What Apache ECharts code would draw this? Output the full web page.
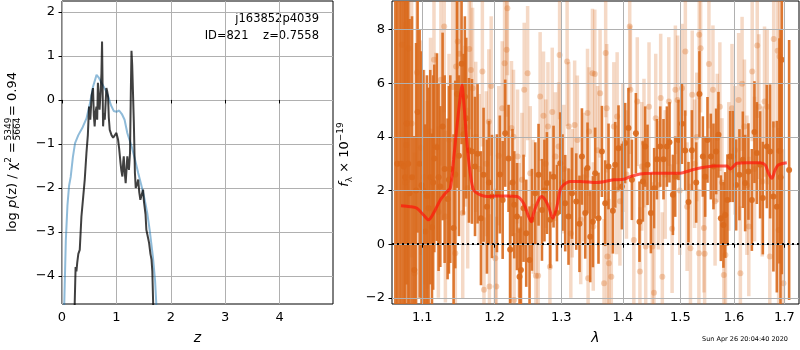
<!DOCTYPE html>
<html>
<head>
<meta charset="utf-8">
<script src="https://cdn.jsdelivr.net/npm/echarts@6/dist/echarts.min.js"></script>
<style>
  html, body { margin: 0; padding: 0; background: #fff; }
  #chart { width: 800px; height: 350px; }
</style>
</head>
<body>
<div id="chart"></div>
<script>
// tick values
const zTicks = [0, 1, 2, 3, 4];
const pzTicks = [-4, -3, -2, -1, 0, 1, 2];
const lamTicks = [1.1, 1.2, 1.3, 1.4, 1.5, 1.6, 1.7];
const fluxTicks = [-2, 0, 2, 4, 6, 8];

// p(z): smooth prior-like curve (blue) and chi2 curve (black), [z, log p]
const pzBlue = [[0.035,-5],[0.05,-4.2],[0.07,-3.2],[0.1,-2.4],[0.13,-1.95],[0.16,-1.75],[0.2,-1.3],[0.24,-0.98],
  [0.3,-0.8],[0.38,-0.62],[0.45,-0.42],[0.51,-0.1],[0.57,0.3],[0.635,0.57],[0.68,0.5],[0.73,0.38],[0.79,0.25],
  [0.85,0.08],[0.9,-0.12],[0.95,-0.25],[1.0,-0.27],[1.05,-0.24],[1.1,-0.32],[1.15,-0.45],[1.2,-0.75],[1.28,-1.06],
  [1.34,-1.35],[1.4,-1.66],[1.46,-1.95],[1.52,-2.27],[1.57,-2.6],[1.61,-2.95],[1.67,-3.56],[1.71,-4.1],[1.74,-4.8],[1.76,-5.5]];
const pzBlack = [[0.22,-5.5],[0.234,-4.6],[0.25,-3.8],[0.265,-3.9],[0.28,-3.7],[0.3,-3.5],[0.326,-3.41],[0.357,-2.65],
  [0.39,-2.2],[0.418,-1.81],[0.449,-1.21],[0.475,-0.8],[0.497,-0.15],[0.52,-0.45],[0.545,0.1],[0.57,0.27],[0.585,-0.35],
  [0.6,-0.6],[0.615,-0.3],[0.633,-0.15],[0.647,-0.45],[0.66,0.39],[0.675,0.05],[0.69,-0.22],[0.71,0.2],[0.725,0.61],
  [0.736,1.33],[0.745,0.4],[0.755,-0.6],[0.77,-0.3],[0.786,-0.45],[0.8,-0.1],[0.816,0.27],[0.83,0.2],[0.846,0.08],
  [0.86,-0.4],[0.877,-0.68],[0.91,-0.8],[0.94,-0.86],[0.97,-0.85],[1.0,-0.75],[1.03,-0.9],[1.05,-1.1],[1.075,-1.43],
  [1.09,-1.6],[1.11,-1.74],[1.125,-1.4],[1.135,-1.28],[1.15,-1.6],[1.17,-1.89],[1.185,-1.6],[1.2,-1.28],[1.215,-1.5],
  [1.23,-1.59],[1.25,-1.2],[1.265,0.2],[1.277,1.12],[1.29,0.8],[1.306,0.84],[1.32,-0.5],[1.34,-1.66],[1.355,-2.0],
  [1.37,-1.97],[1.385,-1.9],[1.4,-1.81],[1.42,-2.1],[1.44,-2.27],[1.465,-2.15],[1.49,-2.04],[1.505,-2.3],[1.52,-2.34],
  [1.535,-2.6],[1.55,-2.95],[1.575,-3.1],[1.6,-3.25],[1.625,-3.5],[1.645,-3.63],[1.66,-3.9],[1.675,-4.62],[1.69,-5.5]];

// spectrum: [lambda, flux, err]
const specDark = [[1.065,-2.6,12],[1.0675,3,9],[1.0705,-2.6,12],[1.073,3,9],[1.0756,2.9,6.5],[1.0775,2.5,7],
  [1.0795,4.5,6],[1.0815,3,7],[1.0833,1.9,6.5],[1.0865,2.5,6],[1.0895,-0.96,5],[1.0918,2,5.5],[1.0938,4.93,4.5],
  [1.0965,3,5],[1.099,2.2,5],[1.1015,2,4.5],[1.104,0.47,4],[1.1062,1.8,4.5],[1.1084,1.34,4.5],[1.1106,2.5,4],
  [1.1129,0.63,3.5],[1.1145,2.3,4],[1.116,3.2,3.5],[1.1196,3.62,3.5],[1.1218,2.5,3.5],[1.1241,2.15,3],[1.1272,4.39,3.5],
  [1.13,2.8,3.5],[1.134,1.69,3],[1.1358,2.4,3.5],[1.1377,2.8,3.5],[1.1422,0.6,3.5],
  [1.1445,2.6,3.5],[1.1468,5.6,3.5],[1.1496,3.3,3],[1.1532,6.73,3],[1.156,4.1,3],[1.1578,5.5,3],
  [1.1597,4.7,3],[1.1635,3.5,2.7],[1.1677,3.46,2.7],[1.172,2.9,2.6],
  [1.1756,3.37,2.6],[1.1804,0.97,2.5],[1.1841,2.59,2.5],[1.1889,1.4,2.5],[1.1918,2.3,2.3],[1.1961,1.78,2.3],
  [1.2033,1.9,2.2],[1.2075,2.6,2.2],[1.2116,1.65,2.2],[1.2153,4.14,2],[1.2202,3.2,2],[1.2227,-0.2,2],[1.226,2.3,2],
  [1.2286,1.47,2],[1.2326,1.03,2],[1.2364,-1.21,1.8],[1.2385,-0.96,2],[1.2424,1.34,2],[1.2464,0.41,2],[1.2514,-0.59,2],
  [1.255,0.91,1.9],[1.26,1.9,1.9],[1.265,2.59,1.9],[1.2702,1.28,1.9],[1.274,2.0,1.9],[1.2778,2.28,1.9],[1.2829,0.91,1.8],
  [1.288,2.52,1.9],[1.2933,1.16,1.8],[1.2984,3.02,1.9],[1.302,2.3,1.8],[1.3062,1.53,1.8],[1.3114,1.03,1.8],
  [1.3168,1.9,1.7],[1.3236,1.59,1.8],[1.3288,0.76,1.8],[1.3327,3.27,1.8],[1.338,1.16,1.7],[1.3417,2.84,1.7],
  [1.3461,0.28,1.7],[1.3504,0.84,1.7],[1.3541,2.65,1.7],[1.3595,0.97,1.7],[1.3651,3.46,1.7],[1.3705,1.53,1.6],
  [1.376,2.9,1.6],[1.3832,1.25,1.6],[1.3871,2.96,1.6],[1.3926,3.58,1.6],[1.3983,2.15,1.6],[1.4038,3.77,1.5],
  [1.4094,4.33,1.5],[1.4152,2.4,1.5],[1.422,4.14,1.5],[1.4282,0.84,1.5],[1.434,2.34,1.5],[1.438,3.64,1.5],[1.442,2.96,1.5],
  [1.4479,1.16,1.5],[1.4536,2.09,1.5],[1.4584,3.17,1.5],[1.4642,3.64,1.5],[1.47,3.17,1.5],[1.476,3.64,1.5],[1.4806,3.8,1.5],
  [1.4867,1.84,1.5],[1.4908,2.52,1.5],[1.4967,3.89,1.5],[1.5028,4.49,1.5],[1.5088,3.49,1.5],[1.5148,1.57,1.5],
  [1.521,3.5,1.5],[1.5289,2.3,1.5],[1.5349,5.6,1.6],[1.5412,3.27,1.5],[1.5455,2.52,1.5],[1.5498,3.89,1.6],[1.5561,3.27,1.6],
  [1.561,2.9,1.6],[1.566,3.46,1.6],[1.5704,4.08,1.6],[1.5749,0.97,1.6],[1.5798,0.72,1.6],[1.5831,1.09,1.6],
  [1.5874,1.65,1.7],[1.5926,3.27,1.7],[1.5978,3.27,1.7],[1.6041,2.21,1.7],[1.6105,2.59,1.7],[1.6171,3.15,1.8],
  [1.6216,2.28,1.8],[1.628,2.71,1.8],[1.6347,1.65,1.9],[1.6398,4.18,1.9],[1.6445,3.4,1.9],[1.651,2.96,2],[1.6564,1.72,2.1],
  [1.6644,3.64,2.3],[1.671,3.46,2.5],[1.6776,1.78,2.8],[1.6845,1.4,3.2],[1.6898,3.48,4.2],[1.692,2.5,5.5],
  [1.6946,6.88,8],[1.7096,2.77,4.85]];
const specLight = [[1.068,3.0,9],[1.0732,7.44,6],[1.0775,2.3,6],[1.0788,3.7,6],[1.0819,7.31,5],[1.086,4.5,5],
  [1.0898,-1.08,4.5],[1.093,6.4,4],[1.0983,3.6,4],[1.102,2.5,4],[1.1065,1.84,3.5],[1.111,4.2,3.5],[1.1156,6.88,3.5],
  [1.118,3.64,3.5],[1.1215,1.2,3.2],[1.1249,6.13,3.2],[1.1294,8.12,3.2],[1.131,1.03,3.2],[1.136,3.9,3.2],[1.141,5.86,3.2],
  [1.1446,-0.34,3.2],[1.1456,6.63,3.2],[1.1479,7.56,3.2],[1.1501,7.1,3.2],[1.1548,1.16,3.2],[1.158,4.4,3],[1.1617,2.09,3],
  [1.1639,7.28,3],[1.1663,6.5,3],[1.1686,5.82,3],[1.173,4.0,2.8],[1.178,2.8,2.8],[1.1824,6.44,2.8],[1.1847,-1.7,2.7],
  [1.188,3.0,2.7],[1.1916,4.57,2.7],[1.1925,-1.58,2.7],[1.195,5.9,2.6],[1.2009,-0.52,2.6],[1.2024,-1.58,2.6],[1.206,3.3,2.6],
  [1.211,5.07,2.5],[1.2144,6.75,2.5],[1.2174,7.25,2.5],[1.2185,8.8,2.5],[1.2224,-0.21,2.5],[1.2245,4.33,2.5],
  [1.2275,4.01,2.5],[1.2284,-2.08,2.5],[1.2335,3.27,2.5],[1.2359,0.53,2.5],[1.24,2.4,2.5],[1.2434,5.76,2.5],
  [1.2485,6.38,2.5],[1.2524,2.65,2.5],[1.257,1.4,2.5],[1.261,-1.18,2.4],[1.2644,-1.18,2.4],[1.2674,5.51,2.4],[1.2725,4.79,2.4],
  [1.276,3.0,2.4],[1.2794,4.39,2.4],[1.2824,-0.84,2.4],[1.286,4.93,2.4],[1.291,3.27,2.4],[1.2959,3.64,2.4],[1.2974,7.06,2.4],
  [1.304,2.8,2.4],[1.3092,6.81,2.4],[1.3118,4.39,2.4],[1.315,0.4,2.4],[1.3173,1.9,2.4],[1.3211,4.45,2.4],[1.3254,3.89,2.4],
  [1.3308,0.91,2.4],[1.336,2.5,2.4],[1.3417,4.89,2.4],[1.3426,-1.27,2.4],[1.3442,4.2,2.4],[1.3497,6.38,2.4],[1.351,0.66,2.4],
  [1.3535,6.35,2.4],[1.358,3.5,2.4],[1.3621,5.63,2.4],[1.3686,-1.46,2.4],[1.3713,7.13,2.4],[1.373,5.07,2.4],[1.3741,-0.46,2.4],
  [1.3767,-0.71,2.4],[1.3806,-1.21,2.4],[1.3848,4.39,2.4],[1.3892,2.03,2.4],[1.3903,4.76,2.4],[1.395,1.6,2.4],[1.4,3.6,2.4],
  [1.406,2.6,2.4],[1.4115,8.12,2.4],[1.4127,5.76,2.4],[1.4185,0.16,2.4],[1.4244,5.32,2.4],[1.4289,-1.02,2.4],[1.432,2.9,2.4],
  [1.4359,3.77,2.4],[1.4389,-0.09,2.4],[1.4446,5.13,2.4],[1.4505,-0.09,2.4],[1.4533,-1.81,2.4],[1.4563,4.7,2.4],[1.461,2.2,2.4],
  [1.465,5.45,2.4],[1.4679,-1.21,2.4],[1.473,2.6,2.4],[1.4794,5.32,2.4],[1.4853,0.58,2.4],[1.4911,5.76,2.4],[1.4951,5.38,2.4],
  [1.499,2.0,2.4],[1.503,5.82,2.4],[1.5091,7.19,2.4],[1.5123,1.4,2.4],[1.5184,-0.15,2.4],[1.5216,5.57,2.4],[1.526,3.0,2.4],
  [1.53,4.0,2.4],[1.5339,-0.34,2.4],[1.5345,7.81,2.4],[1.5371,7.31,2.4],[1.5432,0.6,2.4],[1.5445,-0.36,2.4],[1.5525,6.72,2.4],
  [1.56,5.76,2.4],[1.564,1.6,2.4],[1.5682,3.96,2.4],[1.573,5.13,2.4],[1.577,2.3,2.4],[1.5805,-1.15,2.4],[1.5836,-0.4,2.4],
  [1.59,2.9,2.4],[1.5961,5.07,2.4],[1.602,3.5,2.4],[1.6089,5.38,2.5],[1.6123,-1.08,2.5],[1.6156,5.98,2.5],[1.6202,4.39,2.5],
  [1.625,2.2,2.6],[1.6287,0.66,2.6],[1.6354,6.44,2.6],[1.64,2.8,2.7],[1.6453,7.41,2.7],[1.6485,5.13,2.7],
  [1.6552,2.34,2.8],[1.6598,5.32,2.8],[1.6651,5.13,2.9],[1.6703,-0.46,3],[1.6782,7.65,3.3],[1.6861,7.21,3.8],
  [1.6881,0.53,3.8],[1.6901,7.0,4.3],[1.698,-1.46,5]];
// best-fit model, [lambda, flux]
const model = [[1.0722,1.43],[1.0843,1.4],[1.093,1.34],[1.1017,1.09],[1.1084,0.91],[1.1151,1.16],[1.1241,1.65],
  [1.1331,1.96],[1.1377,2.09],[1.1422,3.15],[1.1468,4.39],[1.1514,5.51],[1.1537,5.94],[1.156,5.38],[1.1607,3.77],
  [1.1653,2.65],[1.17,2.03],[1.1794,1.84],[1.1889,1.78],[1.2032,1.8],[1.2178,1.8],[1.2325,1.78],[1.2424,1.53],
  [1.25,1.03],[1.254,0.84],[1.2575,1.16],[1.2651,1.65],[1.2701,1.78],[1.2752,1.65],[1.2803,1.4],[1.287,0.97],
  [1.2932,1.4],[1.2984,2.03],[1.3036,2.21],[1.314,2.34],[1.3299,2.34],[1.3569,2.3],[1.3843,2.4],[1.401,2.42],
  [1.4123,2.52],[1.4293,2.62],[1.4466,2.65],[1.47,2.65],[1.4998,2.65],[1.5179,2.75],[1.5362,2.84],[1.561,2.92],
  [1.5863,2.92],[1.5927,2.8],[1.599,2.9],[1.6055,3.02],[1.6249,3.04],[1.651,3.04],[1.661,2.96],[1.6677,2.65],
  [1.6744,2.46],[1.6811,2.77],[1.6879,2.96],[1.7048,3.04]];

const FONT = 'DejaVu Sans';
const ORANGE = '#d9691c';
const minus = v => String(v).replace('-', '\u2212');
const ln = Math.log;

function errBars(rows, opacity, width) {
  return {
    type: 'custom', xAxisIndex: 1, yAxisIndex: 1, clip: true, z: 2, silent: true,
    data: rows.map(r => [ln(r[0]), r[1], r[2]]),
    renderItem: (params, api) => {
      const x = api.value(0), y = api.value(1), e = api.value(2);
      const a = api.coord([x, y - e]), b = api.coord([x, y + e]);
      return {
        type: 'line',
        shape: { x1: a[0], y1: a[1], x2: b[0], y2: b[1] },
        style: { stroke: ORANGE, lineWidth: width, opacity: opacity }
      };
    }
  };
}
function dots(rows, opacity) {
  return {
    type: 'scatter', xAxisIndex: 1, yAxisIndex: 1, z: 2, silent: true,
    symbolSize: 6,
    itemStyle: { color: ORANGE, opacity: opacity },
    data: rows.map(r => [ln(r[0]), r[1]])
  };
}

const gridStyle = { show: true, lineStyle: { color: '#b0b0b0', width: 1 } };
const tickStyle = { show: true, length: 3.5, lineStyle: { color: '#000' } };
const labelStyle = { fontFamily: FONT, fontSize: 13, color: '#000' };

const chart = echarts.init(document.getElementById('chart'));
chart.setOption({
  animation: false,
  textStyle: { fontFamily: FONT },
  grid: [
    { left: 62, top: 1, width: 271, height: 303, show: true, borderColor: '#000', borderWidth: 1, backgroundColor: '#fff' },
    { left: 392, top: 1, width: 407, height: 303, show: true, borderColor: '#000', borderWidth: 1, backgroundColor: '#fff' }
  ],
  xAxis: [
    { type: 'value', gridIndex: 0, min: 0, max: 4.98,
      name: 'z', nameLocation: 'middle', nameGap: 27,
      nameTextStyle: { fontFamily: FONT, fontSize: 14, fontStyle: 'italic', color: '#000' },
      axisLine: { show: false },
      axisTick: Object.assign({ customValues: zTicks }, tickStyle),
      axisLabel: Object.assign({ customValues: zTicks, margin: 7 }, labelStyle),
      splitLine: gridStyle },
    { type: 'value', gridIndex: 1, min: ln(1.0607), max: ln(1.73), z: 3,
      name: '\u03bb', nameLocation: 'middle', nameGap: 27,
      nameTextStyle: { fontFamily: FONT, fontSize: 14, fontStyle: 'italic', color: '#000' },
      axisLine: { show: false },
      axisTick: Object.assign({ customValues: lamTicks.map(ln) }, tickStyle),
      axisLabel: Object.assign({ customValues: lamTicks.map(ln), margin: 7,
        formatter: v => Math.exp(v).toFixed(1) }, labelStyle),
      splitLine: gridStyle }
  ],
  yAxis: [
    { type: 'value', gridIndex: 0, min: -4.64, max: 2.25,
      axisLine: { show: false },
      axisTick: Object.assign({ customValues: pzTicks }, tickStyle),
      axisLabel: Object.assign({ customValues: pzTicks, margin: 7, formatter: minus }, labelStyle),
      splitLine: gridStyle },
    { type: 'value', gridIndex: 1, min: -2.23, max: 9.07, z: 3,
      axisLine: { show: false },
      axisTick: Object.assign({ customValues: fluxTicks }, tickStyle),
      axisLabel: Object.assign({ customValues: fluxTicks, margin: 7, formatter: minus }, labelStyle),
      splitLine: gridStyle }
  ],
  series: [
    { type: 'line', xAxisIndex: 0, yAxisIndex: 0, data: pzBlue, showSymbol: false, z: 3,
      lineStyle: { color: 'rgba(31,119,180,0.5)', width: 2 } },
    { type: 'line', xAxisIndex: 0, yAxisIndex: 0, data: pzBlack, showSymbol: false, z: 4,
      lineStyle: { color: 'rgba(0,0,0,0.75)', width: 2 } },
    errBars(specLight, 0.25, 3.5),
    dots(specLight, 0.3),
    errBars(specDark, 0.9, 2.6),
    dots(specDark, 0.9),
    { type: 'line', xAxisIndex: 1, yAxisIndex: 1, z: 5, showSymbol: false, smooth: 0.3,
      data: model.map(r => [ln(r[0]), r[1]]),
      lineStyle: { color: 'rgba(255,20,10,0.7)', width: 3 },
      markLine: { silent: true, symbol: 'none', label: { show: false },
        lineStyle: { color: '#000', width: 2, type: [2, 3], opacity: 1 },
        data: [{ yAxis: 0 }] } }
  ],
  graphic: [
    { type: 'text', x: 319, y: 11, style: { text: 'j163852p4039\nID=821    z=0.7558', align: 'right',
      verticalAlign: 'top', font: '11.5px "DejaVu Sans"', lineHeight: 17, fill: '#000' } },
    { type: 'group', x: 12.5, y: 129, rotation: Math.PI / 2, children: [
      { type: 'text', x: -13, y: 0, style: { text: 'log {i|p}(z) / \u03c7{sup|2} =', align: 'right', verticalAlign: 'middle',
        font: '13px "DejaVu Sans"', fill: '#000',
        rich: { i: { fontStyle: 'italic', fontSize: 13, fontFamily: FONT },
                sup: { fontSize: 9, fontFamily: FONT, verticalAlign: 'top', lineHeight: 16 } } } },
      { type: 'text', x: 0, y: -4, style: { text: '5349', align: 'center', verticalAlign: 'middle',
        font: '9px "DejaVu Sans"', fill: '#000' } },
      { type: 'line', shape: { x1: -10, y1: 0.5, x2: 10, y2: 0.5 }, style: { stroke: '#000', lineWidth: 0.8 } },
      { type: 'text', x: 0, y: 5, style: { text: '5664', align: 'center', verticalAlign: 'middle',
        font: '9px "DejaVu Sans"', fill: '#000' } },
      { type: 'text', x: 13, y: 0, style: { text: '= 0.94', align: 'left', verticalAlign: 'middle',
        font: '13px "DejaVu Sans"', fill: '#000' } }
    ] },
    { type: 'text', x: 345, y: 154.5, rotation: Math.PI / 2, style: {
      text: '{i|f}{sub|\u03bb} \u00d7 10{sup|\u221219}', align: 'center', verticalAlign: 'middle',
      font: '13px "DejaVu Sans"', fill: '#000',
      rich: { i: { fontStyle: 'italic', fontSize: 13, fontFamily: FONT, lineHeight: 18 },
              sub: { fontSize: 9, fontFamily: FONT, verticalAlign: 'bottom', lineHeight: 18 },
              sup: { fontSize: 9, fontFamily: FONT, verticalAlign: 'top', lineHeight: 18 } } } },
    { type: 'text', x: 788, y: 339, style: { text: 'Sun Apr 26 20:04:40 2020', align: 'right', verticalAlign: 'middle',
      font: '6.5px "DejaVu Sans"', fill: '#000' } }
  ]
});
</script>
</body>
</html>
